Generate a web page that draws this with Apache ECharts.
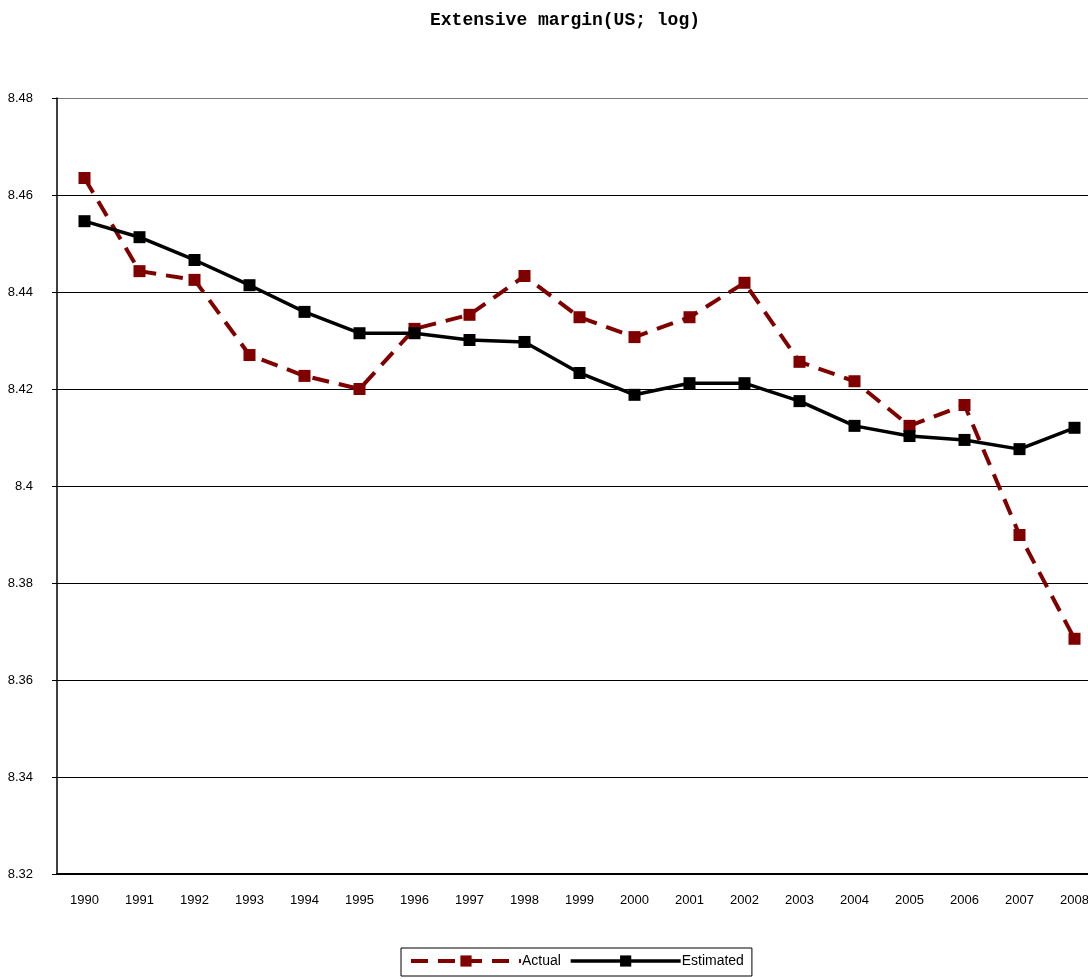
<!DOCTYPE html>
<html>
<head>
<meta charset="utf-8">
<script src="https://cdn.jsdelivr.net/npm/echarts@6/dist/echarts.min.js"></script>
<style>
  html, body { margin: 0; padding: 0; background: #fff; }
  #chart { width: 1088px; height: 979px; }
</style>
</head>
<body>
<div id="chart"></div>
<script>
// years on the x axis
var years = ['1990', '1991', '1992', '1993', '1994', '1995', '1996', '1997', '1998', '1999',
             '2000', '2001', '2002', '2003', '2004', '2005', '2006', '2007', '2008'];

// values
var actual = [8.4635, 8.4443, 8.4425, 8.4270, 8.4227, 8.4200, 8.4324, 8.4353, 8.4433, 8.4348,
              8.4307, 8.4348, 8.4419, 8.4256, 8.4216, 8.4124, 8.4167, 8.3899, 8.3685];
var estimated = [8.4546, 8.4513, 8.4466, 8.4414, 8.4359, 8.4315, 8.4315, 8.4301, 8.4297, 8.4233,
                 8.4188, 8.4212, 8.4212, 8.4175, 8.4124, 8.4103, 8.4095, 8.4076, 8.4120];

var chart = echarts.init(document.getElementById('chart'));

var option = {
    animation: false,
    backgroundColor: '#fff',
    title: {
        text: 'Extensive margin(US; log)',
        left: 560,
        textAlign: 'center',
        top: 6,
        textStyle: { fontFamily: 'Liberation Mono', fontSize: 18, fontWeight: 'bold', color: '#000' }
    },
    legend: {
        left: 401,
        top: 948,
        padding: [6, 8, 8, 8],
        itemWidth: 110,
        itemHeight: 14,
        itemGap: 8,
        borderColor: '#000',
        borderWidth: 1,
        textStyle: { fontFamily: 'Liberation Sans', fontSize: 14, color: '#000', padding: [0, 0, 0, -4] },
        data: [
            { name: 'Actual', lineStyle: { width: 4 } },
            { name: 'Estimated', lineStyle: { width: 3.5 } }
        ]
    },
    // the plot runs past the right edge, as in the original
    grid: { left: 57, top: 98, width: 1045, height: 776, containLabel: false, outerBoundsMode: 'none' },
    xAxis: {
        type: 'category',
        data: years,
        boundaryGap: true,
        axisLine: { lineStyle: { color: '#000', width: 2 } },
        axisTick: { inside: true, length: 8, interval: 0, lineStyle: { color: '#000' } },
        axisLabel: { interval: 0, margin: 20, color: '#000', fontFamily: 'Liberation Sans', fontSize: 13, hideOverlap: false }
    },
    yAxis: {
        type: 'value',
        min: 8.32,
        max: 8.48,
        interval: 0.02,
        axisLine: { show: true, lineStyle: { color: '#000', width: 1.5 } },
        axisTick: { show: true, length: 5, lineStyle: { color: '#000' } },
        axisLabel: {
            margin: 24, color: '#000', fontFamily: 'Liberation Sans', fontSize: 13,
            formatter: function (v) { return String(parseFloat(v.toFixed(2))); }
        },
        splitLine: {
            show: true,
            lineStyle: {
                color: ['#000', '#000', '#000', '#000', '#000', '#000', '#000', '#000', '#777'],
                width: 1
            }
        }
    },
    series: [
        {
            name: 'Actual',
            type: 'line',
            data: actual,
            symbol: 'rect',
            symbolSize: 12,
            itemStyle: { color: '#800000' },
            lineStyle: { color: '#800000', width: 4, type: [17, 10] },
            z: 3
        },
        {
            name: 'Estimated',
            type: 'line',
            data: estimated,
            symbol: 'rect',
            symbolSize: 12,
            itemStyle: { color: '#000' },
            lineStyle: { color: '#000', width: 3.5, type: 'solid' },
            z: 4
        }
    ]
};

chart.setOption(option);
</script>
</body>
</html>
